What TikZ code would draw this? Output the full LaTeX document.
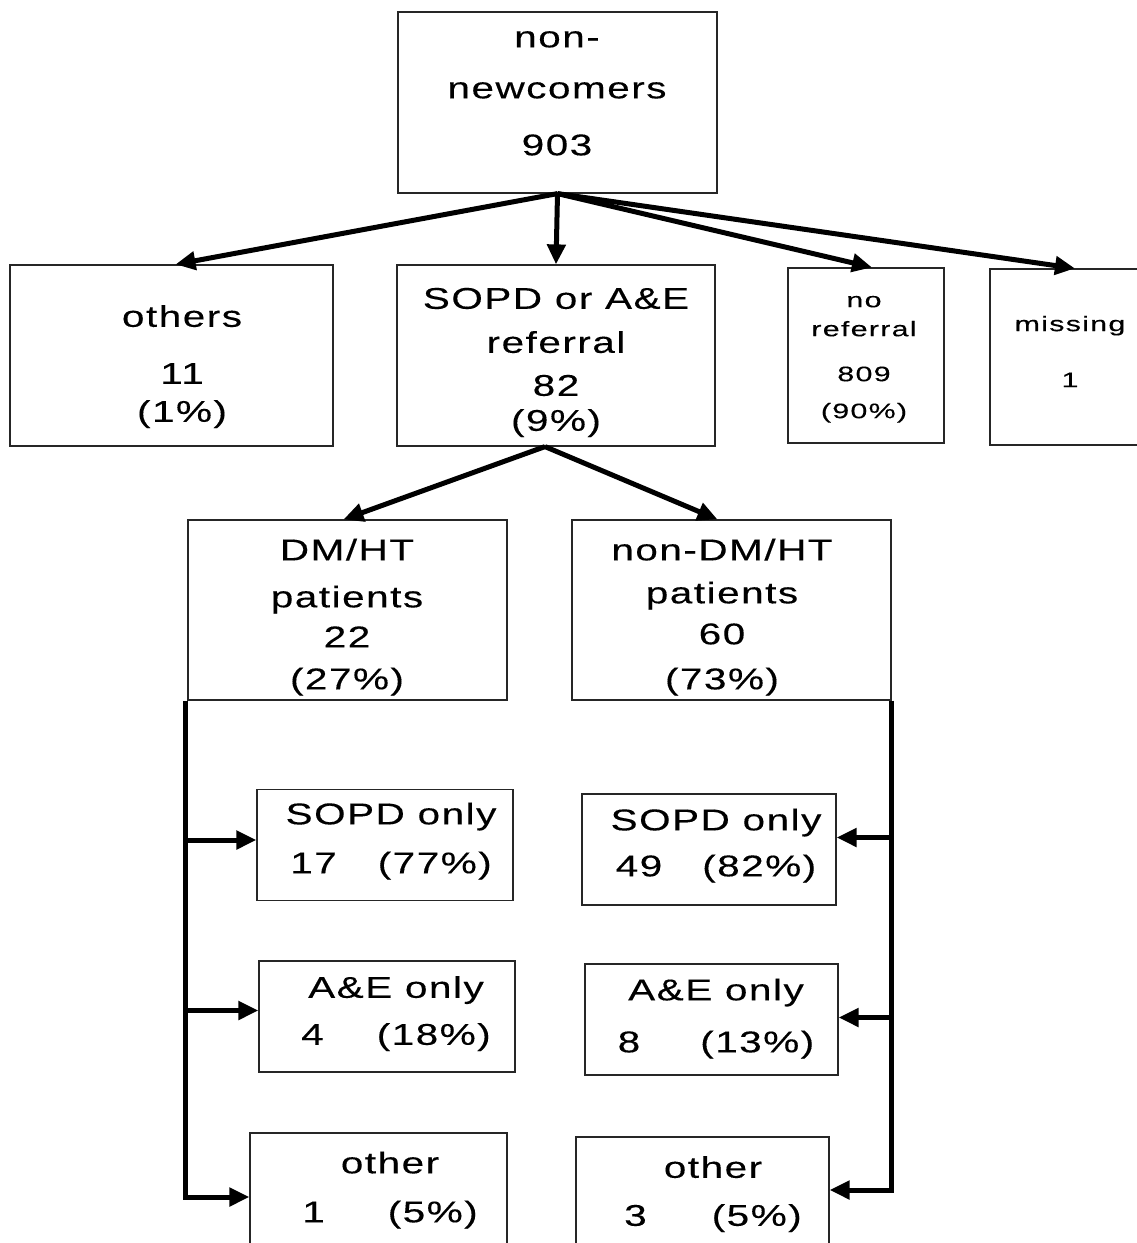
\documentclass[tikz,border=0pt]{standalone}
\usepackage{fontspec}
\setmainfont{Liberation Sans}[FakeStretch=1.35, LetterSpace=5, FakeBold=0.25]
\newfontfamily\smallfam{Liberation Sans}[FakeStretch=1.45, LetterSpace=6, FakeBold=0.25]
\usepackage{tikz}
\usetikzlibrary{arrows.meta,calc}
\newcommand{\boxfont}{\fontsize{30}{44}\selectfont}
\newcommand{\smallboxfont}{\smallfam\fontsize{21}{30}\selectfont}

\begin{document}
\begin{tikzpicture}[x=1pt,y=-1pt,
    box/.style={draw=black!85, line width=1.2pt, inner sep=0pt},
    txt/.style={align=center, inner sep=0pt, anchor=base, font=\boxfont},
    smalltxt/.style={txt, font=\smallboxfont},
    arr/.style={line width=5pt, -{Triangle[length=20pt,width=18pt]}}]
    \useasboundingbox (0,0) rectangle (1136,1243);
    % boxes
    \node [box, minimum width=319pt, minimum height=181pt] (top) at (557.5,102.5) {};
    \node [box, minimum width=323pt, minimum height=181pt] (others) at (171.5,355.5) {};
    \node [box, minimum width=318pt, minimum height=181pt] (refer) at (556,355.5) {};
    \node [box, minimum width=156pt, minimum height=175pt] (noref) at (866,355.5) {};
    \node [box, minimum width=156pt, minimum height=176pt] (missing) at (1068,357) {};
    \node [box, minimum width=319pt, minimum height=180pt] (dm) at (347.5,610) {};
    \node [box, minimum width=319pt, minimum height=180pt] (ndm) at (731.5,610) {};
    \node [box, minimum width=256pt, minimum height=111pt] (sopdL) at (385,845) {};
    \node [box, minimum width=256pt, minimum height=111pt] (aeL) at (387,1016.5) {};
    \node [box, minimum width=257pt, minimum height=114pt] (othL) at (378.5,1190) {};
    \node [box, minimum width=254pt, minimum height=111pt] (sopdR) at (709,849.5) {};
    \node [box, minimum width=253pt, minimum height=111pt] (aeR) at (711.5,1019.5) {};
    \node [box, minimum width=253pt, minimum height=110pt] (othR) at (702.5,1192) {};
    % texts, placed on the baseline of their last line
    \node [txt] (topT) at (557,155.3) {non-\\[7pt]newcomers\\[13pt]903};
    \node [txt] (othersT) at (182,421.8) {others\\[13pt]11\\[-6pt](1\%)};
    \node [txt] (referT) at (556,430.8) {SOPD or A\&E\\referral\\[-1pt]82\\[-9pt](9\%)};
    \node [smalltxt] (norefT) at (864,418.2) {no\\[-1pt]referral\\[15pt]809\\[7pt](90\%)};
    \node [smalltxt] (missingT) at (1070,387.1) {missing\\[26pt]1};
    \node [txt] (dmT) at (347,689.3) {DM/HT\\[3pt]patients\\[-4pt]22\\[-2pt](27\%)};
    \node [txt] (ndmT) at (722,689.3) {non-DM/HT\\[-1pt]patients\\[-3pt]60\\[1pt](73\%)};
    \node [txt] (sopdLT) at (391,873.3) {SOPD only\\[5pt]17\hspace{41pt}(77\%)};
    \node [txt] (aeLT) at (396,1044.8) {A\&E only\\[3pt]4\hspace{53pt}(18\%)};
    \node [txt] (othLT) at (390,1222.3) {other\\[5pt]1\hspace{63pt}(5\%)};
    \node [txt] (sopdRT) at (716,876.3) {SOPD only\\[2pt]49\hspace{40pt}(82\%)};
    \node [txt] (aeRT) at (716,1052.3) {A\&E only\\[8pt]8\hspace{60pt}(13\%)};
    \node [txt] (othRT) at (713,1225.8) {other\\[4pt]3\hspace{65pt}(5\%)};

    \draw [arr] (top.south) -- ([xshift=4pt]others.north);
    \draw [arr] (top.south) -- (refer.north);
    \draw [arr] (top.south) -- ([xshift=6pt]noref.north);
    \draw [arr] (top.south) -- ([xshift=7pt]missing.north);
    \draw [arr] ([xshift=-11pt]refer.south) -- ([xshift=-4pt]dm.north);
    \draw [arr] ([xshift=-11pt]refer.south) -- ([xshift=-14pt]ndm.north);

    \coordinate (lbar) at ([xshift=-2pt]dm.south west);
    \coordinate (rbar) at (ndm.south east);
    \foreach \n/\s in {sopdL/5,aeL/6}
    {
        \coordinate (in) at ([yshift=\s pt]\n.west);
        \draw [arr] (lbar |- in) -- (in);
    }
    \coordinate (in) at ([yshift=-7pt]othL.west);
    \draw [arr] (lbar) |- (in);
    \foreach \n/\s in {sopdR/12,aeR/2}
    {
        \coordinate (in) at ([yshift=\s pt]\n.east);
        \draw [arr] (rbar |- in) -- (in);
    }
    \coordinate (in) at ([yshift=2pt]othR.east);
    \draw [arr] (rbar) |- (in);
\end{tikzpicture}
\end{document}
